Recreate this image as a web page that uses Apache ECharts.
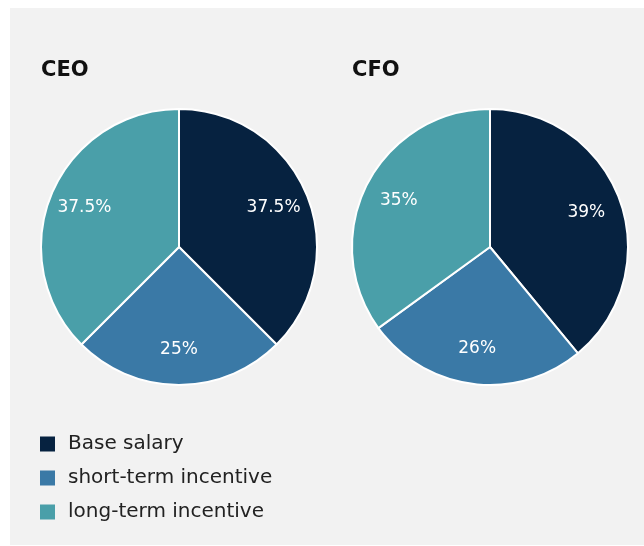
<!DOCTYPE html>
<html>
<head>
<meta charset="utf-8">
<style>
  html, body { margin: 0; padding: 0; background: #ffffff; }
  #chart { width: 644px; height: 546px; }
</style>
<script src="https://cdn.jsdelivr.net/npm/echarts@6/dist/echarts.min.js"></script>
</head>
<body>
<div id="chart"></div>
<script>
// Pay mix for the two executive roles
const components = ['Base salary', 'short-term incentive', 'long-term incentive'];
const ceoShares = [37.5, 25, 37.5];
const cfoShares = [39, 26, 35];
const ceoTitle = 'CEO';
const cfoTitle = 'CFO';
const colors = ['#062240', '#3a79a6', '#4a9fa9'];

const FONT = 'DejaVu Sans';
const RADIUS = 138;

function toData(values) {
  return components.map((name, i) => ({ name: name, value: values[i] }));
}

// Filled pie with white separators, no labels
function pieSeries(values, center) {
  return {
    type: 'pie',
    center: center,
    radius: [0, RADIUS],
    startAngle: 90,
    clockwise: true,
    silent: true,
    label: { show: false },
    labelLine: { show: false },
    itemStyle: { borderColor: '#ffffff', borderWidth: 2 },
    data: toData(values)
  };
}

// Transparent ring carrying the percentage labels a bit further out from the center
function labelSeries(values, center) {
  return {
    type: 'pie',
    center: center,
    radius: [RADIUS * 0.44, RADIUS],
    startAngle: 90,
    clockwise: true,
    silent: true,
    z: 3,
    itemStyle: { color: 'rgba(0,0,0,0)' },
    label: {
      show: true,
      position: 'inside',
      formatter: p => p.value + '%',
      color: '#ffffff',
      fontFamily: FONT,
      fontSize: 17
    },
    labelLine: { show: false },
    data: toData(values)
  };
}

const chart = echarts.init(document.getElementById('chart'), null, { renderer: 'canvas' });
chart.setOption({
  animation: false,
  color: colors,
  graphic: [{
    type: 'rect',
    z: -10,
    shape: { x: 10, y: 8, width: 634, height: 537 },
    style: { fill: '#f2f2f2' }
  }],
  title: [
    { text: ceoTitle, left: 36, top: 55, padding: 5,
      textStyle: { fontFamily: FONT, fontWeight: 'bold', fontSize: 21, color: '#111111' } },
    { text: cfoTitle, left: 347, top: 55, padding: 5,
      textStyle: { fontFamily: FONT, fontWeight: 'bold', fontSize: 21, color: '#111111' } }
  ],
  legend: {
    orient: 'vertical',
    left: 40,
    top: 434,
    padding: 0,
    itemWidth: 15,
    itemHeight: 15,
    itemGap: 14,
    itemTextGap: 5,
    icon: 'rect',
    selectedMode: false,
    data: components,
    itemStyle: { borderWidth: 0 },
    textStyle: { fontFamily: FONT, fontSize: 20, color: '#222222', padding: [0, 0, 0, 8] }
  },
  series: [
    pieSeries(ceoShares, [179, 247]),
    labelSeries(ceoShares, [179, 247]),
    pieSeries(cfoShares, [490, 247]),
    labelSeries(cfoShares, [490, 247])
  ]
});
</script>
</body>
</html>
